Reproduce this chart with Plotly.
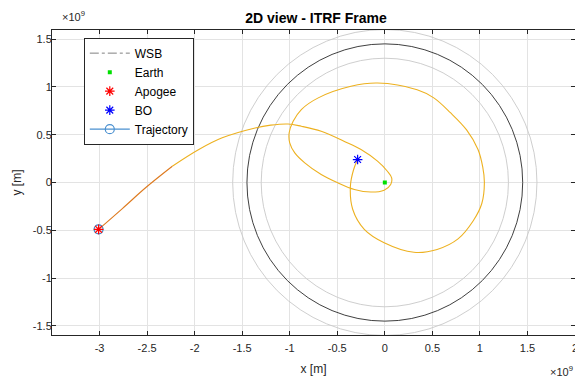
import plotly.graph_objects as go

# ---- data (units of 1e9 m) ----
traj_x = [-0.286, -0.328, -0.362, -0.338, -0.216, -0.007, 0.306, 0.55, 0.77, 0.93, 1.02,
          1.047, 1.03, 0.98, 0.86, 0.69, 0.515, 0.34, -0.077, -0.356, -0.70, -0.878,
          -0.964, -1.006, -1.0, -0.947, -0.842, -0.669, -0.495, -0.32, -0.147, -0.007,
          0.062, 0.072, 0.027, -0.077, -0.25, -0.425, -0.669, -0.878, -1.017, -1.2,
          -1.364, -1.71, -1.956, -2.235, -2.51, -2.757, -3.01]
traj_y = [0.24, 0.136, -0.038, -0.28, -0.49, -0.63, -0.73, -0.70, -0.59, -0.40, -0.22,
          0.0, 0.16, 0.345, 0.55, 0.73, 0.885, 0.97, 1.04, 1.006, 0.885, 0.763,
          0.64, 0.52, 0.415, 0.31, 0.206, 0.084, -0.003, -0.073, -0.10, -0.08,
          -0.02, 0.049, 0.118, 0.223, 0.345, 0.43, 0.536, 0.588, 0.612, 0.60,
          0.57, 0.467, 0.345, 0.17, -0.05, -0.27, -0.49]
dark_start = 45  # index where the darker (final) part of the trajectory begins

earth_xy = [0.0, 0.0]
apogee_xy = [-3.01, -0.49]
bo_xy = [-0.286, 0.24]

wsb_radii = [1.30, 1.45, 1.60]
wsb_colors = ["#c8c8c8", "#2a2a2a", "#c8c8c8"]

x_ticks = [-3, -2.5, -2, -1.5, -1, -0.5, 0, 0.5, 1, 1.5, 2]
x_ticktext = ["-3", "-2.5", "-2", "-1.5", "-1", "-0.5", "0", "0.5", "1", "1.5", "2"]
y_ticks = [-1.5, -1, -0.5, 0, 0.5, 1, 1.5]
y_ticktext = ["-1.5", "-1", "-0.5", "0", "0.5", "1", "1.5"]

FONT = "Liberation Sans, Arial, sans-serif"
AX = "#262626"

fig = go.Figure()

# legend-only entries
fig.add_trace(go.Scatter(x=[None], y=[None], mode="lines", name="WSB",
                         line=dict(color="#808080", width=1, dash="dashdot")))
fig.add_trace(go.Scatter(x=[earth_xy[0]], y=[earth_xy[1]], mode="markers", name="Earth",
                         marker=dict(color="#00e000", size=4, symbol="square")))

# trajectory
fig.add_trace(go.Scatter(x=traj_x[:dark_start + 1], y=traj_y[:dark_start + 1], mode="lines",
                         line=dict(color="#EDB120", width=1.1, shape="spline", smoothing=1.0),
                         showlegend=False, hoverinfo="skip"))
fig.add_trace(go.Scatter(x=traj_x[dark_start:], y=traj_y[dark_start:], mode="lines",
                         line=dict(color="#DE7A1E", width=1.1, shape="spline", smoothing=1.0),
                         showlegend=False, hoverinfo="skip"))
fig.add_trace(go.Scatter(x=[traj_x[-1]], y=[traj_y[-1]], mode="markers",
                         marker=dict(symbol="circle-open", size=9, color="#3c85c8",
                                     line=dict(width=1.2)),
                         showlegend=False))

fig.add_trace(go.Scatter(x=[apogee_xy[0]], y=[apogee_xy[1]], mode="markers", name="Apogee",
                         marker=dict(symbol="asterisk-open", size=8, color="#ff0000",
                                     line=dict(width=1.2, color="#ff0000"))))
fig.add_trace(go.Scatter(x=[bo_xy[0]], y=[bo_xy[1]], mode="markers", name="BO",
                         marker=dict(symbol="asterisk-open", size=8, color="#0000ff",
                                     line=dict(width=1.2, color="#0000ff"))))
fig.add_trace(go.Scatter(x=[None], y=[None], mode="lines+markers", name="Trajectory",
                         line=dict(color="#4a90d0", width=1.2),
                         marker=dict(symbol="circle-open", size=9, color="#4a90d0",
                                     line=dict(width=1.2))))

shapes = []
for r, c in zip(wsb_radii, wsb_colors):
    shapes.append(dict(type="circle", xref="x", yref="y", x0=-r, y0=-r, x1=r, y1=r,
                       line=dict(color=c, width=0.9), layer="between"))

# page body has an 8px margin; figure is sized so it fits the 583x382 window
W, H = 575, 374
fig.update_layout(
    width=W, height=H,
    margin=dict(l=44, r=5, t=22, b=47),
    paper_bgcolor="white", plot_bgcolor="white",
    font=dict(family=FONT, size=11, color=AX),
    title=dict(text="<b>2D view - ITRF Frame</b>", x=308 / W, xanchor="center",
               y=1 - 10 / H, yanchor="middle", font=dict(size=14, color="#000000")),
    shapes=shapes,
    showlegend=True,
    legend=dict(x=0.0608, y=0.975, xanchor="left", yanchor="top",
                bgcolor="white", bordercolor="#262626", borderwidth=1,
                font=dict(size=12, color="#000000"), tracegroupgap=0, itemwidth=40),
    annotations=[
        dict(text="\u00d710<sup>9</sup>", xref="paper", yref="paper", x=0.0, y=1.0,
             xanchor="left", yanchor="bottom", yshift=5, xshift=8, showarrow=False,
             font=dict(size=11, color=AX)),
        dict(text="\u00d710<sup>9</sup>", xref="paper", yref="paper", x=1.0, y=0.0,
             xanchor="right", yanchor="top", yshift=-27, xshift=0, showarrow=False,
             font=dict(size=11, color=AX)),
    ],
)
fig.update_xaxes(range=[-3.5, 2.0], tickvals=x_ticks, ticktext=x_ticktext,
                 showgrid=True, gridcolor="#e3e3e3", gridwidth=1, zeroline=False,
                 showline=True, linecolor=AX, linewidth=1, mirror="allticks",
                 ticks="inside", ticklen=4, tickcolor=AX, ticklabelstandoff=3,
                 title=dict(text="x [m]", font=dict(size=12), standoff=11))
fig.update_yaxes(range=[-1.595, 1.595], tickvals=y_ticks, ticktext=y_ticktext,
                 showgrid=True, gridcolor="#e3e3e3", gridwidth=1, zeroline=False,
                 showline=True, linecolor=AX, linewidth=1, mirror="allticks",
                 ticks="inside", ticklen=4, tickcolor=AX, ticklabelstandoff=-3,
                 title=dict(text="y [m]", font=dict(size=12), standoff=8))

fig.write_html("out.html")
